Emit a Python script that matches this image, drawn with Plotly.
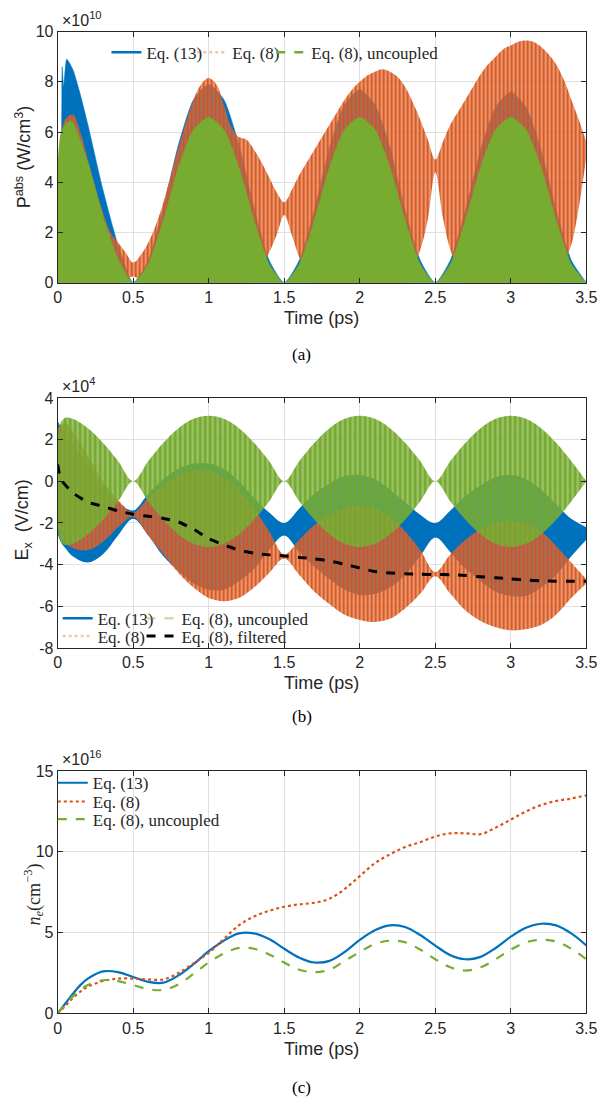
import plotly.graph_objects as go

# ---------------- DATA ----------------
tick_x = [0, 0.5, 1, 1.5, 2, 2.5, 3, 3.5]
tick_x_text = ["0", "0.5", "1", "1.5", "2", "2.5", "3", "3.5"]

# Panel (a): absorbed power envelopes (units of 1e10 W/cm^3)
ta_green = [0, 0.02, 0.05, 0.08, 0.1, 0.2, 0.3, 0.4, 0.5, 0.6, 0.7, 0.8, 0.9, 1.0, 1.1, 1.2, 1.3, 1.4,
            1.5, 1.6, 1.7, 1.8, 1.9, 2.0, 2.1, 2.2, 2.3, 2.4, 2.5, 2.6, 2.7, 2.8, 2.9, 3.0, 3.1, 3.2,
            3.3, 3.4, 3.5]
pa_green = [4.6, 5.9, 6.3, 6.45, 6.4, 4.8, 2.65, 0.95, 0, 0.75, 2.5, 4.6, 6.1, 6.6, 6.1, 4.6, 2.5, 0.75,
            0, 0.75, 2.5, 4.6, 6.1, 6.6, 6.1, 4.6, 2.5, 0.75, 0, 0.75, 2.5, 4.6, 6.1, 6.6, 6.1, 4.6,
            2.5, 0.75, 0]
ta_blue = [0, 0.01, 0.02, 0.03, 0.04, 0.06, 0.1, 0.15, 0.2, 0.3, 0.4, 0.5, 0.6, 0.7, 0.8, 0.9, 1.0,
           1.1, 1.2, 1.3, 1.4, 1.5, 1.6, 1.7, 1.8, 1.9, 2.0, 2.1, 2.2, 2.3, 2.4, 2.5, 2.6, 2.7, 2.8,
           2.9, 3.0, 3.1, 3.2, 3.3, 3.4, 3.5]
pa_blue = [5.1, 4.5, 4.6, 8.6, 7.8, 8.9, 8.5, 7.5, 6.3, 3.7, 1.5, 0, 0.9, 3.0, 5.5, 7.3, 7.9,
           7.3, 5.5, 3.0, 0.9, 0, 0.9, 2.9, 5.4, 7.1, 7.7, 7.1, 5.4, 2.9, 0.9, 0, 0.9, 2.9, 5.3,
           7.0, 7.6, 7.0, 5.3, 2.9, 0.9, 0]
ta_orange = [0, 0.05, 0.1, 0.15, 0.2, 0.25, 0.3, 0.35, 0.4, 0.45, 0.5, 0.55, 0.6, 0.65, 0.7, 0.75,
             0.8, 0.85, 0.9, 0.95, 1.0, 1.05, 1.1, 1.15, 1.2, 1.25, 1.3, 1.35, 1.4, 1.45, 1.5, 1.55,
             1.6, 1.65, 1.7, 1.75, 1.8, 1.85, 1.9, 1.95, 2.0, 2.05, 2.1, 2.15, 2.2, 2.25, 2.3, 2.35,
             2.4, 2.45, 2.5, 2.55, 2.6, 2.65, 2.7, 2.75, 2.8, 2.85, 2.9, 2.95, 3.0, 3.05, 3.1, 3.15,
             3.2, 3.25, 3.3, 3.35, 3.4, 3.45, 3.5]
pa_orange_hi = [4.5, 6.5, 6.7, 6.0, 4.9, 3.8, 2.8, 2.0, 1.6, 1.2, 0.8, 1.1, 1.6, 2.3, 3.2, 4.3,
                5.4, 6.4, 7.3, 7.9, 8.15, 7.9, 7.1, 6.2, 5.8, 5.7, 5.3, 4.8, 4.2, 3.6, 3.2, 3.7,
                4.3, 4.8, 5.3, 5.8, 6.3, 6.8, 7.3, 7.7, 8.0, 8.25, 8.4, 8.5, 8.4, 8.2, 7.8, 7.2,
                6.5, 5.7, 4.9, 5.6, 6.3, 6.8, 7.3, 7.8, 8.3, 8.7, 9.0, 9.3, 9.45, 9.6, 9.65, 9.6,
                9.4, 9.1, 8.7, 8.1, 7.3, 6.5, 5.6]
pa_orange_lo = [0, 0, 0, 0, 0, 0, 0, 0, 0, 0.15, 0.25, 0.1, 0, 0, 0, 0,
                0, 0, 0, 0, 0, 0, 0, 0, 0, 0, 0.3, 0.7, 1.2, 1.9, 2.7, 1.9,
                1.0, 0.4, 0, 0, 0, 0, 0, 0, 0, 0, 0, 0, 0, 0, 0, 0.6,
                1.3, 2.5, 4.4, 2.6, 1.3, 0.6, 0, 0, 0, 0, 0, 0, 0, 0, 0, 0,
                0, 0, 0, 0.8, 1.5, 3.0, 5.0]

# Panel (b): field envelopes (units of 1e4 V/cm)
tb = [0, 0.02, 0.05, 0.1, 0.2, 0.3, 0.4, 0.5, 0.6, 0.7, 0.8, 0.9, 1.0, 1.1, 1.2, 1.3, 1.4, 1.5,
      1.6, 1.7, 1.8, 1.9, 2.0, 2.1, 2.2, 2.3, 2.4, 2.5, 2.6, 2.7, 2.8, 2.9, 3.0, 3.1, 3.2, 3.3,
      3.4, 3.5]
eb_green_hi = [2.0, 2.8, 3.05, 3.0, 2.55, 1.85, 0.97, 0, 0.97, 1.85, 2.55, 3.0, 3.15, 3.0, 2.55,
               1.85, 0.97, 0, 0.97, 1.85, 2.55, 3.0, 3.15, 3.0, 2.55, 1.85, 0.97, 0, 0.97, 1.85,
               2.55, 3.0, 3.15, 3.0, 2.55, 1.85, 0.97, 0]
eb_green_lo = [-2.0, -2.9, -3.05, -3.0, -2.55, -1.85, -0.97, 0, -0.97, -1.85, -2.55, -3.0, -3.15,
               -3.0, -2.55, -1.85, -0.97, 0, -0.97, -1.85, -2.55, -3.0, -3.15, -3.0, -2.55, -1.85,
               -0.97, 0, -0.97, -1.85, -2.55, -3.0, -3.15, -3.0, -2.55, -1.85, -0.97, 0]
eb_blue_hi = [2.9, 2.6, 2.3, 1.8, 0.8, -0.3, -1.0, -1.4, -0.6, 0.1, 0.6, 0.85, 0.85, 0.6, 0.0,
              -0.8, -1.5, -2.0, -1.3, -0.6, -0.1, 0.25, 0.3, 0.1, -0.4, -1.0, -1.6, -2.0, -1.4,
              -0.7, -0.2, 0.2, 0.3, 0.1, -0.4, -1.1, -1.8, -2.2]
eb_blue_lo = [-2.5, -2.9, -3.2, -3.6, -3.9, -3.5, -2.6, -1.8, -2.6, -3.6, -4.3, -4.9, -5.2, -5.2,
              -4.8, -4.2, -3.3, -2.6, -3.4, -4.1, -4.7, -5.2, -5.45, -5.4, -5.1, -4.5, -3.6, -2.7,
              -3.4, -4.2, -4.8, -5.3, -5.5, -5.5, -5.1, -4.5, -3.6, -2.8]
eb_orange_hi = [2.5, 2.7, 2.8, 2.4, 1.2, 0.0, -0.9, -1.5, -0.8, -0.2, 0.3, 0.5, 0.5, 0.2, -0.4,
                -1.3, -2.4, -3.5, -2.8, -2.1, -1.6, -1.3, -1.2, -1.3, -1.7, -2.4, -3.3, -4.35,
                -3.5, -2.8, -2.3, -2.0, -1.9, -2.0, -2.4, -3.1, -3.9, -4.7]
eb_orange_lo = [-2.0, -2.6, -2.9, -3.2, -3.3, -2.9, -2.2, -1.7, -2.6, -3.5, -4.4, -5.1, -5.6, -5.75,
                -5.6, -5.1, -4.4, -3.7, -4.5, -5.3, -5.9, -6.4, -6.65, -6.75, -6.6, -6.1, -5.4,
                -4.55, -5.4, -6.2, -6.7, -7.0, -7.15, -7.1, -6.9, -6.4, -5.6, -4.9]
tk = [0, 0.005, 0.02, 0.1, 0.2, 0.3, 0.4, 0.5, 0.6, 0.7, 0.8, 0.9, 1.0, 1.1, 1.2, 1.3, 1.4, 1.5,
      1.6, 1.7, 1.8, 1.9, 2.0, 2.1, 2.2, 2.3, 2.4, 2.5, 2.6, 2.7, 2.8, 2.9, 3.0, 3.1, 3.2, 3.3,
      3.4, 3.5]
eb_filtered = [0.8, 0.6, 0.1, -0.55, -1.0, -1.2, -1.42, -1.58, -1.68, -1.78, -1.95, -2.3, -2.75,
               -3.05, -3.3, -3.45, -3.53, -3.58, -3.65, -3.72, -3.82, -3.98, -4.16, -4.33, -4.4,
               -4.44, -4.46, -4.47, -4.48, -4.52, -4.58, -4.63, -4.68, -4.74, -4.78, -4.79, -4.79,
               -4.79]

# Panel (c): electron density (units of 1e16 cm^-3)
tc = [0, 0.05, 0.1, 0.15, 0.2, 0.3, 0.4, 0.5, 0.6, 0.7, 0.8, 0.9, 1.0, 1.1, 1.2, 1.3, 1.4, 1.5,
      1.6, 1.7, 1.8, 1.9, 2.0, 2.1, 2.2, 2.3, 2.4, 2.5, 2.6, 2.7, 2.8, 2.9, 3.0, 3.1, 3.2, 3.3,
      3.4, 3.5]
ne_eq13 = [0, 0.6, 1.2, 1.75, 2.15, 2.6, 2.55, 2.25, 1.95, 1.9, 2.35, 3.05, 3.85, 4.5, 4.95, 4.95,
           4.6, 4.0, 3.45, 3.15, 3.25, 3.8, 4.55, 5.15, 5.45, 5.35, 4.85, 4.2, 3.6, 3.35, 3.5,
           4.05, 4.75, 5.3, 5.55, 5.45, 4.95, 4.2]
ne_eq8 = [0, 0.45, 0.95, 1.35, 1.65, 2.0, 2.15, 2.15, 2.1, 2.1, 2.5, 3.1, 3.75, 4.6, 5.45, 6.0,
          6.35, 6.6, 6.75, 6.85, 7.1, 7.7, 8.5, 9.3, 9.85, 10.3, 10.6, 10.95, 11.15, 11.15, 11.1,
          11.5, 12.0, 12.5, 12.9, 13.15, 13.3, 13.5]
ne_unc = [0, 0.55, 1.05, 1.45, 1.75, 2.05, 2.0, 1.75, 1.5, 1.45, 1.8, 2.45, 3.15, 3.7, 4.05, 4.0,
          3.65, 3.15, 2.7, 2.55, 2.7, 3.25, 3.8, 4.3, 4.5, 4.4, 3.95, 3.35, 2.85, 2.65, 2.85,
          3.35, 3.95, 4.4, 4.55, 4.45, 4.0, 3.35]

# ---------------- STYLE ----------------
BLUE = "#0072BD"
ORANGE = "#D95319"
GREEN = "#77AC30"
ORANGE_BG = "rgba(226,112,62,0.72)"
ORANGE_FG = "rgba(214,80,22,0.95)"
GREEN_BG = "rgba(128,180,60,0.78)"
GREEN_FG = "rgba(112,166,42,0.95)"
W, H = 611, 1110
SANS = "Liberation Sans"
SERIF = "Liberation Serif"


def px_x(p):
    return p / W


def px_y(p):
    return 1 - p / H


X0, X1 = 55, 597
panels = [(24, 279), (396, 650), (775, 1021)]

fig = go.Figure()
legend_layouts = {}
legfont = dict(family=SERIF, size=17, color="#262626")


def band(x, lo, hi, color, xa, ya, pattern=None, shape="spline"):
    fig.add_trace(go.Scatter(x=x, y=lo, mode="lines", line=dict(width=0, shape=shape),
                             showlegend=False, hoverinfo="skip", xaxis=xa, yaxis=ya))
    kw = {}
    if pattern is not None:
        kw["fillpattern"] = pattern
    fig.add_trace(go.Scatter(x=x, y=hi, mode="lines", line=dict(width=0, shape=shape),
                             fill="tonexty", fillcolor=color, showlegend=False,
                             hoverinfo="skip", xaxis=xa, yaxis=ya, **kw))


def place_legend(key, text_x, row_y):
    legend_layouts[key] = dict(orientation="v", x=px_x(text_x - 42), y=px_y(row_y - 14),
                               xanchor="left", yanchor="top", bgcolor="rgba(0,0,0,0)",
                               font=legfont, itemwidth=30, traceorder="normal")


def legend_item(name, color, dash, width, key, xa, ya, text_x, row_y):
    fig.add_trace(go.Scatter(x=[None], y=[None], mode="lines", name=name,
                             line=dict(color=color, dash=dash, width=width),
                             legend=key, xaxis=xa, yaxis=ya))
    place_legend(key, text_x, row_y)


orange_pat = dict(shape="|", fgcolor=ORANGE_FG, bgcolor=ORANGE_BG, size=4, solidity=0.45,
                  fillmode="replace")
green_pat = dict(shape="|", fgcolor=GREEN_FG, bgcolor=GREEN_BG, size=5, solidity=0.5,
                 fillmode="replace")

# Panel (a)
fig.add_trace(go.Scatter(x=ta_blue, y=pa_blue, mode="lines",
                         line=dict(width=0.5, color=BLUE, shape="spline", smoothing=0.6),
                         fill="tozeroy", fillcolor=BLUE, showlegend=False, xaxis="x", yaxis="y"))
band(ta_orange, pa_orange_lo, pa_orange_hi, ORANGE_BG, "x", "y", orange_pat)
fig.add_trace(go.Scatter(x=ta_green, y=pa_green, mode="lines",
                         line=dict(width=0.5, color=GREEN, shape="spline", smoothing=0.6),
                         fill="tozeroy", fillcolor=GREEN, showlegend=False, xaxis="x", yaxis="y"))
legend_item("Eq. (13)", BLUE, "solid", 2.5, "legend", "x", "y", 147, 41)
legend_item("Eq. (8)", "rgba(217,83,25,0.35)", "dot", 2.5, "legend2", "x", "y", 235, 41)
legend_item("Eq. (8), uncoupled", GREEN, "dash", 2.5, "legend3", "x", "y", 316, 41)

# Panel (b)
band(tb, eb_blue_lo, eb_blue_hi, BLUE, "x2", "y2")
band(tb, eb_orange_lo, eb_orange_hi, ORANGE_BG, "x2", "y2", orange_pat)
band(tb, eb_green_lo, eb_green_hi, GREEN_BG, "x2", "y2", green_pat)
fig.add_trace(go.Scatter(x=tk, y=eb_filtered, mode="lines", showlegend=False,
                         line=dict(color="black", width=3, dash="dash", shape="spline", smoothing=0.5),
                         xaxis="x2", yaxis="y2"))
legend_item("Eq. (13)", BLUE, "solid", 2.5, "legend4", "x2", "y2", 97, 616)
legend_item("Eq. (8)", "rgba(217,83,25,0.35)", "dot", 2.5, "legend5", "x2", "y2", 97, 634)
legend_item("Eq. (8), uncoupled", "rgba(119,172,48,0.4)", "dash", 2.5, "legend6", "x2", "y2", 183, 616)
legend_item("Eq. (8), filtered", "black", "dash", 3, "legend7", "x2", "y2", 183, 634)

# Panel (c)
fig.add_trace(go.Scatter(x=tc, y=ne_eq13, mode="lines", name="Eq. (13)",
                         line=dict(color=BLUE, width=2.2, shape="spline"), legend="legend8",
                         xaxis="x3", yaxis="y3"))
place_legend("legend8", 92, 783)
fig.add_trace(go.Scatter(x=tc, y=ne_eq8, mode="lines", name="Eq. (8)",
                         line=dict(color=ORANGE, width=2.2, dash="dot", shape="spline"),
                         legend="legend9", xaxis="x3", yaxis="y3"))
place_legend("legend9", 92, 802)
fig.add_trace(go.Scatter(x=tc, y=ne_unc, mode="lines", name="Eq. (8), uncoupled",
                         line=dict(color=GREEN, width=2.2, dash="dash", shape="spline"),
                         legend="legend10", xaxis="x3", yaxis="y3"))
place_legend("legend10", 92, 820)

tickfont = dict(family=SANS, size=16, color="#262626")


def xax(anchor, top, bot):
    return dict(domain=[px_x(X0), px_x(X1)], range=[0, 3.5], anchor=anchor,
                tickvals=tick_x, ticktext=tick_x_text, ticks="inside", ticklen=5,
                tickcolor="#262626", showline=True, linecolor="#262626", linewidth=1,
                mirror="ticks", showgrid=True, gridcolor="#e0e0e0", zeroline=False,
                tickfont=tickfont)


def yax(anchor, top, bot, rng, vals):
    return dict(domain=[px_y(bot), px_y(top)], range=rng, anchor=anchor,
                tickvals=vals, ticktext=[str(v) for v in vals], ticks="inside", ticklen=5,
                tickcolor="#262626", showline=True, linecolor="#262626", linewidth=1,
                mirror="ticks", showgrid=True, gridcolor="#e0e0e0", zeroline=False,
                tickfont=tickfont)


layout = dict(width=W, height=H, margin=dict(l=0, r=0, t=0, b=0),
              paper_bgcolor="white", plot_bgcolor="white")
layout["xaxis"] = xax("y", *panels[0])
layout["xaxis2"] = xax("y2", *panels[1])
layout["xaxis3"] = xax("y3", *panels[2])
layout["yaxis"] = yax("x", *panels[0], [0, 10], [0, 2, 4, 6, 8, 10])
layout["yaxis2"] = yax("x2", *panels[1], [-8, 4], [-8, -6, -4, -2, 0, 2, 4])
layout["yaxis3"] = yax("x3", *panels[2], [0, 15], [0, 5, 10, 15])
layout.update(legend_layouts)

ann = []
labfont = dict(family=SANS, size=18, color="#262626")
for (top, bot), exp in zip(panels, ["10", "4", "16"]):
    ann.append(dict(x=px_x(57), y=px_y(top - 1), xref="paper", yref="paper", xanchor="left",
                    yanchor="bottom", showarrow=False, text="×10<sup>%s</sup>" % exp,
                    font=dict(family=SANS, size=16, color="#262626")))
    ann.append(dict(x=px_x((X0 + X1) / 2), y=px_y(bot + 36), xref="paper", yref="paper",
                    xanchor="center", yanchor="middle", showarrow=False, text="Time (ps)",
                    font=labfont))
for cap, yy in zip(["(a)", "(b)", "(c)"], [352, 720, 1096]):
    ann.append(dict(x=px_x(305), y=px_y(yy), xref="paper", yref="paper", xanchor="center",
                    yanchor="middle", showarrow=False, text=cap,
                    font=dict(family=SERIF, size=17, color="black")))
ann.append(dict(x=px_x(20), y=px_y(152), xref="paper", yref="paper", textangle=-90,
                xanchor="center", yanchor="middle",
                showarrow=False, text="P<sup>abs</sup> (W/cm<sup>3</sup>)", font=labfont))
ann.append(dict(x=px_x(20), y=px_y(520), xref="paper", yref="paper", textangle=-90,
                xanchor="center", yanchor="middle",
                showarrow=False, text="E<sub>x</sub>  (V/cm)", font=labfont))
ann.append(dict(x=px_x(30), y=px_y(900), xref="paper", yref="paper", textangle=-90,
                xanchor="center", yanchor="middle",
                showarrow=False, text="<i>n<sub>e</sub></i>(cm<sup>−3</sup>)",
                font=dict(family=SERIF, size=18, color="#262626")))
layout["annotations"] = ann

fig.update_layout(**layout)
fig.write_html("out.html")
